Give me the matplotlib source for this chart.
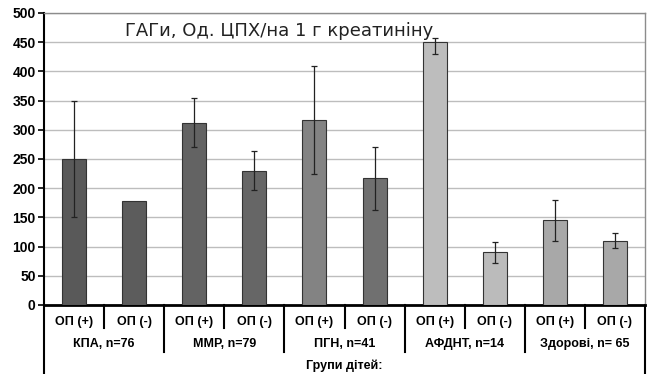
import matplotlib
matplotlib.use("Agg")
import matplotlib.pyplot as plt
from matplotlib.transforms import blended_transform_factory

# values
groups = ["КПА, n=76", "ММР, n=79", "ПГН, n=41", "АФДНТ, n=14", "Здорові, n= 65"]
subgroups = ["ОП (+)", "ОП (-)"]
means = [250, 178, 311, 230, 317, 217, 450, 90, 145, 110]
err_low = [100, 0, 41, 33, 92, 55, 20, 18, 35, 13]
err_high = [100, 0, 43, 33, 92, 54, 8, 18, 35, 14]
colors = ["#595959", "#5c5c5c", "#636363", "#666666", "#838383",
          "#707070", "#bdbdbd", "#bbbbbb", "#a8a8a8", "#a8a8a8"]
title = "ГАГи, Од. ЦПХ/на 1 г креатиніну"
xlabel = "Групи дітей:"

W, H = 654, 374
ax_l, ax_r, ax_t, ax_b = 44, 645, 13, 305

fig = plt.figure(figsize=(W / 100, H / 100), dpi=100)
ax = fig.add_axes([ax_l / W, 1 - ax_b / H, (ax_r - ax_l) / W, (ax_b - ax_t) / H])

x = list(range(len(means)))
ax.bar(x, means, width=0.4, color=colors, edgecolor="#333333", linewidth=0.8, zorder=3)
for xi, m, lo, hi in zip(x, means, err_low, err_high):
    if lo == 0 and hi == 0:
        continue
    ax.errorbar(xi, m, yerr=[[lo], [hi]], fmt="none", ecolor="#222222",
                elinewidth=0.9, capsize=2.5, capthick=0.9, zorder=4)

ax.set_xlim(-0.5, len(means) - 0.5)
ax.set_ylim(0, 500)
ax.set_yticks(range(0, 501, 50))
ax.yaxis.grid(True, color="#bdbdbd", linewidth=1.0, zorder=0)
ax.set_axisbelow(True)
ax.set_xticks([])
ax.tick_params(axis="y", direction="out", length=4, width=1.2, pad=2)
for lab in ax.get_yticklabels():
    lab.set_fontfamily("Liberation Sans")
    lab.set_fontweight("bold")
    lab.set_fontsize(10)

ax.spines["left"].set_linewidth(1.5)
ax.spines["bottom"].set_linewidth(2.0)
ax.spines["left"].set_color("black")
ax.spines["bottom"].set_color("black")
for s in ("top", "right"):
    ax.spines[s].set_color("#8c8c8c")
    ax.spines[s].set_linewidth(1.0)

ax.text(0.135, 0.94, title, transform=ax.transAxes, fontsize=13,
        fontfamily="DejaVu Sans", ha="left", va="center", color="#222222")

# category table under the axis
tr = blended_transform_factory(ax.transData, ax.transAxes)
def ay(py):
    return (ax_b - py) / (ax_b - ax_t)

lbl = dict(fontfamily="Liberation Sans", fontweight="bold", fontsize=9,
           ha="center", va="center", transform=tr, clip_on=False)
for i in x:
    ax.text(i, ay(322), subgroups[i % 2], **lbl)
for g, name in enumerate(groups):
    ax.text(2 * g + 0.5, ay(344), name, **lbl)
ax.text(4.5, ay(366), xlabel, **lbl)

line = dict(color="black", linewidth=1.5, transform=tr, clip_on=False)
for g in range(len(groups)):
    ax.plot([2 * g + 0.5, 2 * g + 0.5], [ay(305), ay(328)], **line)
    if g > 0:
        ax.plot([2 * g - 0.5, 2 * g - 0.5], [ay(305), ay(352)], **line)
ax.plot([-0.5, -0.5], [ay(305), ay(374)], **line)
ax.plot([len(means) - 0.5, len(means) - 0.5], [ay(305), ay(374)], **line)

fig.savefig("out.png", dpi=100)
